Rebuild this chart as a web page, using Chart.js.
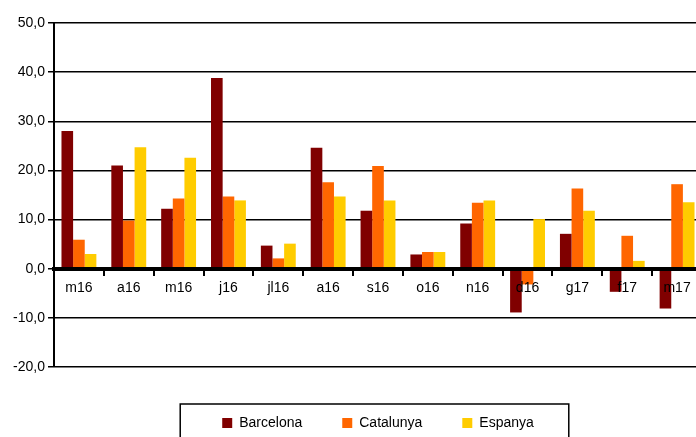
<!DOCTYPE html>
<html>
<head>
<meta charset="utf-8">
<script src="https://cdn.jsdelivr.net/npm/chart.js@4/dist/chart.umd.min.js"></script>
<style>
  html, body { margin: 0; padding: 0; background: #fff; overflow: hidden; }
  #wrap { width: 702px; height: 437px; overflow: hidden; }
</style>
</head>
<body>
<div id="wrap"><canvas id="mycanvas" width="702" height="440"></canvas></div>
<script>
var months = ["m16", "a16", "m16", "j16", "jl16", "a16", "s16", "o16", "n16", "d16", "g17", "f17", "m17"];
var barcelona = [28.0, 21.0, 12.2, 38.8, 4.7, 24.6, 11.8, 2.9, 9.2, -8.9, 7.1, -4.7, -8.1];
var catalunya = [5.9, 9.8, 14.3, 14.7, 2.1, 17.6, 20.9, 3.4, 13.4, -3.2, 16.3, 6.7, 17.2];
var espanya = [3.0, 24.7, 22.6, 13.9, 5.1, 14.7, 13.9, 3.4, 13.9, 10.1, 11.8, 1.6, 13.5];
var yTicks = [-20, -10, 0, 10, 20, 30, 40, 50];

var fontFamily = "'Liberation Sans', Arial, sans-serif";

// box round the legend
var legendBox = {
	id: 'legendBox',
	afterDraw: function(chart) {
		var boxes = chart.legend.legendHitBoxes;
		if (!boxes || !boxes.length) return;
		var first = boxes[0], last = boxes[boxes.length - 1];
		var ctx = chart.ctx;
		ctx.save();
		ctx.strokeStyle = '#000';
		ctx.lineWidth = 1.5;
		ctx.strokeRect(first.left - 42, first.top - 12, (last.left + last.width + 35) - (first.left - 42), 60);
		ctx.restore();
	}
};

var chartdata = {
	labels: months,
	datasets: [
		{ label: 'Barcelona', backgroundColor: '#800000', data: barcelona, xAxisID: 'x' },
		{ label: 'Catalunya', backgroundColor: '#FF6600', data: catalunya, xAxisID: 'x' },
		{ label: 'Espanya', backgroundColor: '#FFCC00', data: espanya, xAxisID: 'x' }
	]
};

var ctx = document.getElementById('mycanvas');
var barGraph = new Chart(ctx, {
	type: 'bar',
	data: chartdata,
	plugins: [legendBox],
	options: {
		responsive: false,
		animation: false,
		layout: { padding: { top: 23, right: 0, bottom: 0, left: 0 } },
		datasets: { bar: { barPercentage: 1.0, categoryPercentage: 0.7 } },
		plugins: {
			tooltip: { enabled: false },
			legend: {
				position: 'bottom',
				fullSize: false,
				labels: {
					boxWidth: 10,
					boxHeight: 10,
					padding: 40,
					color: '#000',
					font: { family: fontFamily, size: 14 }
				}
			}
		},
		scales: {
			x: {
				type: 'category',
				position: { y: 0 },
				offset: true,
				grid: {
					display: true,
					offset: true,
					drawOnChartArea: false,
					drawTicks: true,
					tickLength: 5,
					color: '#000',
					lineWidth: 2,
					z: 1
				},
				border: { display: true, color: '#000', width: 4, z: 1 },
				ticks: {
					color: '#000',
					padding: 6,
					maxRotation: 0,
					autoSkip: false,
					z: 1,
					font: { family: fontFamily, size: 14 }
				}
			},
			// empty axis, only keeps a gap between plot and legend
			gap: {
				type: 'category',
				axis: 'x',
				position: 'bottom',
				grid: { display: false },
				border: { display: false },
				ticks: { display: false },
				afterFit: function(scale) { scale.height = 9; }
			},
			y: {
				min: -20,
				max: 50,
				afterBuildTicks: function(scale) {
					scale.ticks = yTicks.map(function(v) { return { value: v }; });
				},
				afterFit: function(scale) { scale.width = 54; },
				grid: {
					color: '#000',
					lineWidth: 1.5,
					tickLength: 6
				},
				border: { display: true, color: '#000', width: 2 },
				ticks: {
					color: '#000',
					padding: 3,
					font: { family: fontFamily, size: 14 },
					callback: function(v) { return Number(v).toFixed(1).replace('.', ','); }
				}
			}
		}
	}
});
</script>
</body>
</html>
